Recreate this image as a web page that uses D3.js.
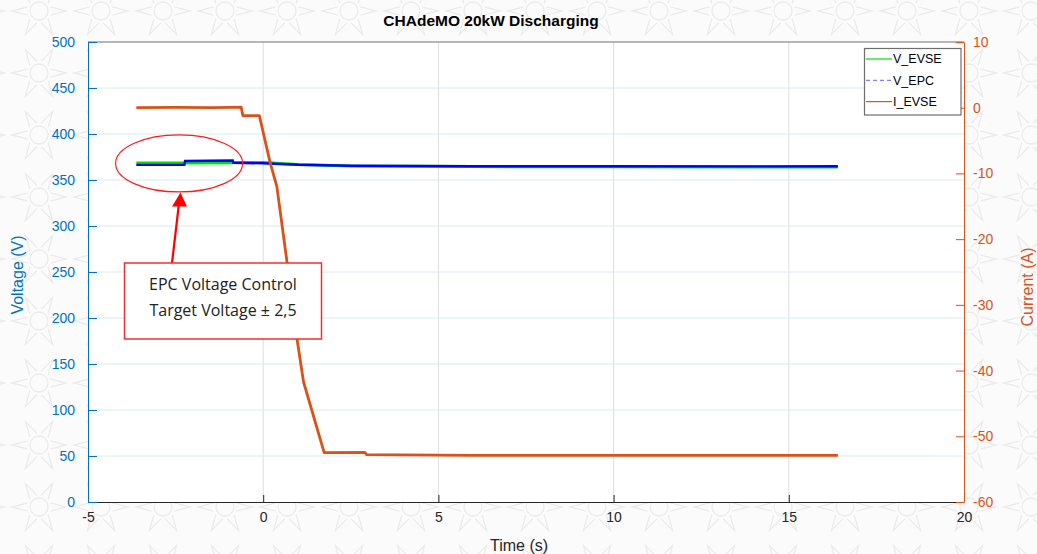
<!DOCTYPE html>
<html>
<head>
<meta charset="utf-8">
<script src="https://cdn.jsdelivr.net/npm/d3@7"></script>
<style>
html,body{margin:0;padding:0;background:#fff;}
svg{display:block;}
</style>
</head>
<body>
<svg id="chart" width="1037" height="554"></svg>
<script>
// ---- data ----
const chartTitle = "CHAdeMO 20kW Discharging";
const xTicks = [-5, 0, 5, 10, 15, 20];
const yLeftTicks = [0, 50, 100, 150, 200, 250, 300, 350, 400, 450, 500];
const yRightTicks = [-60, -50, -40, -30, -20, -10, 0, 10];
const seriesNames = ["V_EVSE", "V_EPC", "I_EVSE"];

const timeV = [-3.62, -2.25, -2.23, -0.87, -0.85, 0.0, 1.0, 2.5, 6.0, 10.0, 14.0, 16.4];
const vEVSE = [368.6, 368.6, 368.5, 368.7, 368.9, 369.0, 366.8, 365.2, 364.6, 364.3, 364.2, 364.1];
const vEPC  = [367.3, 367.5, 371.5, 372.0, 369.6, 369.0, 367.4, 366.3, 365.8, 365.8, 365.7, 365.8];

const timeI = [-3.62, -2.5, -1.5, -0.9, -0.63, -0.58, -0.11, 0.20, 0.39, 0.68, 0.96, 1.15, 1.74, 2.90, 2.95, 6.0, 10.0, 14.0, 16.4];
const iEVSE = [0.0, 0.05, 0.0, 0.05, 0.1, -1.2, -1.2, -8.4, -12.0, -23.5, -35.0, -41.7, -52.5, -52.45, -52.8, -52.9, -52.9, -52.9, -52.9];

const noteLines = ["EPC Voltage Control", "Target Voltage \u00b1 2,5"];

// ---- layout ----
const svg = d3.select("#chart");
const W = 1037, H = 554;
const m = {left: 88, right: 964, top: 42, bottom: 502};
const blue = "#0072BD", orange = "#D95319", dark = "#262626";
const sansFont = "'Liberation Sans', Arial, Helvetica, sans-serif";

// background pattern
const defs = svg.append("defs");
const pat = defs.append("pattern").attr("id", "bg").attr("patternUnits", "userSpaceOnUse")
  .attr("width", 62).attr("height", 62).attr("x", 8).attr("y", -20);
const pg = pat.append("g").attr("fill", "none").attr("stroke", "#ebebeb").attr("stroke-width", 1.3);
function motif(cx, cy) {
  pg.append("circle").attr("cx", cx).attr("cy", cy).attr("r", 9);
  for (let k = 0; k < 6; k++) {
    const a = k * Math.PI / 3;
    const r1 = 12, r2 = 27, hw = 0.35;
    const p = [[cx + r1 * Math.cos(a - hw), cy + r1 * Math.sin(a - hw)],
               [cx + r2 * Math.cos(a), cy + r2 * Math.sin(a)],
               [cx + r1 * Math.cos(a + hw), cy + r1 * Math.sin(a + hw)]];
    pg.append("path").attr("d", "M" + p.map(q => q.join(",")).join("L"));
  }
}
motif(31, 31);
svg.append("rect").attr("width", W).attr("height", H).attr("fill", "#fbfbfb");
svg.append("rect").attr("width", W).attr("height", H).attr("fill", "url(#bg)");

// plot area
svg.append("rect").attr("x", m.left).attr("y", m.top)
  .attr("width", m.right - m.left).attr("height", m.bottom - m.top).attr("fill", "#fff");

const x = d3.scaleLinear().domain([-5, 20]).range([m.left, m.right]);
const yL = d3.scaleLinear().domain([0, 500]).range([m.bottom, m.top]);
const yR = d3.scaleLinear().domain([-60, 10]).range([m.bottom, m.top]);

// grid
const grid = svg.append("g");
grid.selectAll("line.v").data(xTicks.slice(1, -1)).join("line")
  .attr("x1", d => x(d)).attr("x2", d => x(d)).attr("y1", m.top).attr("y2", m.bottom)
  .attr("stroke", "#dedede").attr("stroke-width", 1);
grid.selectAll("line.h").data(yLeftTicks.slice(1, -1)).join("line")
  .attr("x1", m.left).attr("x2", m.right).attr("y1", d => yL(d)).attr("y2", d => yL(d))
  .attr("stroke", "#d9eaf5").attr("stroke-width", 1);

// lines
const lineV = d3.line().x((d, i) => x(timeV[i])).y(d => yL(d));
const lineI = d3.line().x((d, i) => x(timeI[i])).y(d => yR(d));
svg.append("path").datum(vEVSE).attr("d", lineV).attr("fill", "none")
  .attr("stroke", "#00e000").attr("stroke-width", 3);
svg.append("path").datum(vEPC).attr("d", lineV).attr("fill", "none")
  .attr("stroke", "#0000ff").attr("stroke-width", 2.4).attr("transform", "translate(0,0.8)");
svg.append("path").datum(iEVSE).attr("d", lineI).attr("fill", "none")
  .attr("stroke", orange).attr("stroke-width", 2.8).attr("stroke-linejoin", "round");

// axes
const fmt = d => String(d);
const gx = svg.append("g").attr("transform", `translate(0,${m.bottom})`)
  .call(d3.axisTop(x).tickValues(xTicks).tickFormat(fmt).tickSize(7).tickSizeOuter(0));
gx.selectAll("text").attr("y", 10).attr("dy", "0.71em");
gx.call(g => { g.select(".domain").attr("stroke", dark); g.selectAll("line").attr("stroke", dark); g.selectAll("text").attr("fill", dark); });
// top border
svg.append("line").attr("x1", m.left).attr("x2", m.right).attr("y1", m.top).attr("y2", m.top)
  .attr("stroke", "#707070").attr("stroke-width", 1.2);

const gl = svg.append("g").attr("transform", `translate(${m.left},0)`)
  .call(d3.axisRight(yL).tickValues(yLeftTicks).tickFormat(fmt).tickSize(9).tickSizeOuter(0));
gl.selectAll("text").attr("x", -13).attr("text-anchor", "end");
gl.call(g => { g.select(".domain").attr("stroke", blue); g.selectAll("line").attr("stroke", blue); g.selectAll("text").attr("fill", blue); });

const gr = svg.append("g").attr("transform", `translate(${m.right},0)`)
  .call(d3.axisLeft(yR).tickValues(yRightTicks).tickFormat(fmt).tickSize(8).tickSizeOuter(0));
gr.selectAll("text").attr("x", 9).attr("text-anchor", "start");
gr.call(g => { g.select(".domain").attr("stroke", orange); g.selectAll("line").attr("stroke", orange); g.selectAll("text").attr("fill", orange); });

svg.selectAll(".tick text").attr("font-family", sansFont).attr("font-size", 14);

// title and labels
svg.append("text").attr("x", 491).attr("y", 26).attr("text-anchor", "middle")
  .attr("font-family", sansFont).attr("font-size", 15.5).attr("font-weight", "bold").attr("fill", "#000")
  .text(chartTitle);
svg.append("text").attr("transform", "translate(23,275) rotate(-90)").attr("text-anchor", "middle")
  .attr("font-family", sansFont).attr("font-size", 16).attr("fill", blue).text("Voltage (V)");
svg.append("text").attr("transform", "translate(1033,287) rotate(-90)").attr("text-anchor", "middle")
  .attr("font-family", sansFont).attr("font-size", 16).attr("fill", orange).text("Current (A)");
svg.append("text").attr("x", 519).attr("y", 551).attr("text-anchor", "middle")
  .attr("font-family", sansFont).attr("font-size", 16).attr("fill", dark).text("Time (s)");

// legend
const lg = svg.append("g");
lg.append("rect").attr("x", 864.5).attr("y", 48.5).attr("width", 96.5).attr("height", 66.5)
  .attr("fill", "#fff").attr("stroke", "#6e6e6e").attr("stroke-width", 1.2);
const legStyles = [
  {c: "#00e000", dash: null},
  {c: "#8080ff", dash: "4,3"},
  {c: orange, dash: null}
];
seriesNames.forEach((n, i) => {
  const yy = 59 + i * 21.3;
  lg.append("line").attr("x1", 866).attr("x2", 892).attr("y1", yy).attr("y2", yy)
    .attr("stroke", legStyles[i].c).attr("stroke-width", 1.2)
    .attr("stroke-dasharray", legStyles[i].dash);
  lg.append("text").attr("x", 893).attr("y", yy).attr("dy", "0.35em")
    .attr("font-family", sansFont).attr("font-size", 12.5).attr("fill", "#000").text(n);
});

// annotation
svg.append("ellipse").attr("cx", x(-2.4)).attr("cy", yL(368)).attr("rx", 63.5).attr("ry", 28.5)
  .attr("fill", "none").attr("stroke", "#ff1a1a").attr("stroke-width", 1.2);
const boxX = 124.5, boxY = 263, boxW = 197, boxH = 76;
svg.append("line").attr("x1", 172).attr("y1", boxY).attr("x2", 178.8).attr("y2", 205)
  .attr("stroke", "#ff0000").attr("stroke-width", 2.2);
svg.append("path").attr("d", "M180.5,192.5L172,206.5L187,206.5Z").attr("fill", "#ff0000");
svg.append("rect").attr("x", boxX).attr("y", boxY).attr("width", boxW).attr("height", boxH)
  .attr("fill", "#fff").attr("stroke", "#f03030").attr("stroke-width", 1.5);
noteLines.forEach((t, i) => {
  svg.append("text").attr("x", boxX + boxW / 2).attr("y", 290 + i * 26).attr("text-anchor", "middle")
    .attr("font-family", "'Open Sans', 'Noto Sans', sans-serif").attr("font-size", 16).attr("fill", "#222")
    .text(t);
});
</script>
</body>
</html>
